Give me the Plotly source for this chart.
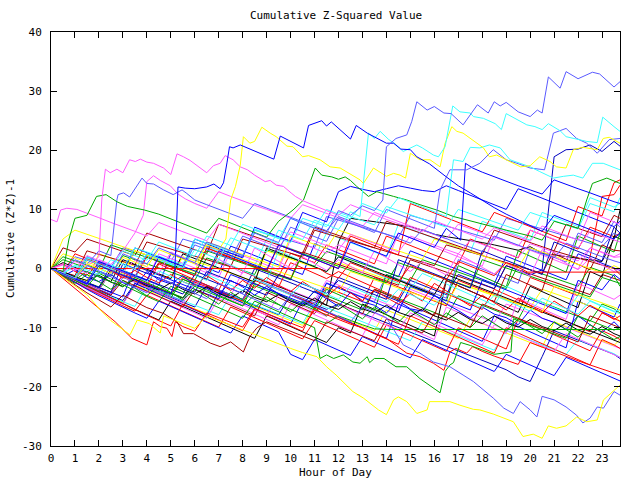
import plotly.graph_objects as go

# ---------------- data (values read/estimated from the reference) ----------------
HALF_HOURS = [min(i * 0.5, 23.75) for i in range(49)]
X_TICKS = list(range(0, 24))
Y_TICKS = [-30, -20, -10, 0, 10, 20, 30, 40]

# bundle series on the half-hour grid
b01_blue = [0,-0.9,-1.7,-2.5,1.2,0.4,-0.4,-1.2,-2.0,-2.8,2.5,1.7,0.9,0.1,-0.7,3.8,3.0,2.2,1.4,0.6,-0.2,-1.0,4.2,3.4,2.6,1.8,1.0,0.2,-0.6,-1.4,3.0,2.2,1.4,0.6,-0.2,-1.0,-1.8,-2.6,2.1,1.3,0.5,-0.3,-1.1,-1.9,2.5,1.7,0.9,0.1,-0.3]
b02_green = [0,-0.8,-1.6,-2.4,-3.1,-0.5,-1.3,-2.1,-2.9,-3.7,-4.5,-1.8,-2.6,-3.4,-4.2,-5.0,-5.7,-2.9,-3.7,-4.5,-5.3,-6.1,-3.8,-4.6,-5.4,-6.2,-7.0,-3.5,-4.3,-5.1,-5.9,-6.7,-7.4,-8.2,-4.6,-5.4,-6.2,-7.0,-7.8,-8.6,-4.9,-5.7,-6.5,-7.3,-8.1,-8.9,-6.0,-6.8,-7.5]
b03_red = [0,-0.7,2.5,1.7,0.9,0.1,-0.7,-1.5,2.0,1.2,0.4,-0.4,-1.2,3.5,2.7,1.9,1.1,0.3,-0.5,-1.3,2.6,1.8,1.0,4.0,3.2,2.4,1.6,0.8,5.5,4.7,3.9,3.1,2.3,1.5,0.7,5.0,4.2,3.4,2.6,1.8,6.5,5.7,4.9,4.1,3.3,7.0,6.2,5.4,6.0]
b04_magenta = [0,-1.0,-1.9,-2.8,-3.6,-4.4,-1.0,-1.8,-2.6,-3.4,-4.2,-5.0,-2.2,-3.0,-3.8,-4.6,-0.5,-1.3,-2.1,-2.9,-3.7,-4.5,-5.3,-2.0,-2.8,-3.6,-4.4,-5.2,-6.0,-6.8,-3.5,-4.3,-5.1,-5.9,-6.7,-7.5,-8.3,-9.1,-6.0,-6.8,-7.6,-8.4,-9.2,-10.0,-10.8,-11.6,-12.4,-13.1,-13.5]
b05_cyan = [0,-0.8,-1.6,1.8,1.0,0.2,-0.6,3.0,2.2,1.4,0.6,-0.2,4.5,3.7,2.9,2.1,1.3,0.5,5.0,4.2,3.4,2.6,1.8,6.0,5.2,4.4,3.6,2.8,2.0,7.5,6.7,5.9,5.1,4.3,3.5,2.7,8.0,7.2,6.4,5.6,4.8,9.5,8.7,7.9,7.1,12.0,11.2,10.4,11.0]
b06_yellow = [0,-1.1,-2.1,-3.1,-4.0,-4.9,-5.7,-2.8,-3.6,-4.4,-5.2,-6.0,-6.8,-7.6,-4.0,-4.8,-5.6,-6.4,-7.2,-8.0,-8.8,-9.6,-6.5,-7.3,-8.1,-8.9,-9.7,-10.5,-7.0,-7.8,-8.6,-9.4,-10.2,-11.0,-11.8,-8.5,-9.3,-10.1,-10.9,-11.7,-12.5,-13.3,-9.0,-9.8,-10.6,-11.4,-12.2,-13.0,-12.0]
b07_black = [0,-0.9,-1.8,-2.7,-3.5,-0.2,-1.0,-1.8,-2.6,-3.4,-4.2,-5.0,-2.0,-2.8,-3.6,-4.4,-5.2,-1.5,-2.3,-3.1,-3.9,-4.7,-5.5,-6.2,4.5,8.5,8.2,7.9,7.7,7.4,7.1,6.5,5.8,5.4,5.1,4.8,4.4,4.0,3.5,3.1,3.7,2.6,2.3,2.0,1.7,1.5,1.2,5.0,9.9]
b08_darkred = [0,-0.7,-1.4,1.5,0.8,0.1,-0.6,-1.3,-2.0,1.0,0.3,-0.4,-1.1,-1.8,2.5,1.8,1.1,0.4,-0.3,-1.0,-1.7,2.8,2.1,1.4,0.7,0.0,-0.7,-1.4,-2.1,-2.8,1.5,0.8,0.1,-0.6,-1.3,-2.0,-2.7,-3.4,0.5,-0.2,-0.9,-1.6,-2.3,-3.0,-3.7,-4.4,-1.0,-1.7,-2.0]
b09_lightblue = [0,-0.6,2.0,1.4,0.8,0.2,3.5,2.9,2.3,1.7,1.1,5.0,4.4,3.8,3.2,2.6,2.0,6.5,5.9,5.3,4.7,4.1,3.5,8.8,8.2,7.6,7.0,6.4,5.8,5.2,9.0,8.4,7.8,7.2,6.6,6.0,5.4,4.8,8.5,7.9,7.3,6.7,6.1,5.5,4.9,4.3,3.7,6.0,5.4]
b10_navy = [0,-1.0,-2.0,-2.9,-3.8,-4.6,-5.4,-2.5,-3.3,-4.1,-4.9,-5.7,-6.5,-3.0,-3.8,-4.6,-5.4,-6.2,-7.0,-7.8,-4.5,-5.3,-6.1,-6.9,-6.0,-6.8,-7.6,-8.4,-9.2,-10.0,-10.8,-11.6,-12.4,-13.2,-14.0,-14.8,-15.6,-16.4,-17.1,-18.3,-19.1,-14.9,-10.5,-11.3,-12.1,-12.9,-13.7,-14.5,-15.2]
b11_red = [0,-0.8,-1.6,-2.4,-3.2,-4.0,-1.0,-1.8,-2.6,-3.4,-4.2,-1.5,-2.3,-3.1,-3.9,-4.7,-5.5,-2.0,-2.8,-3.6,-4.4,-5.2,-6.0,-3.2,-4.0,-4.8,-5.6,-1.5,-2.3,-3.1,-3.9,-4.7,-5.5,-6.3,-2.0,-2.8,-3.6,-4.4,-5.2,-6.0,-1.5,-2.3,-3.1,-3.9,-4.6,2.0,12.2,12.5,14.1]
b12_green = [0,1.5,0.8,0.1,-0.6,-1.3,2.2,1.5,0.8,0.1,-0.6,-1.3,-2.0,1.8,1.1,0.4,-0.3,-1.0,3.2,2.5,1.8,1.1,0.4,2.9,2.2,1.5,0.8,0.1,-0.6,-1.3,-2.0,1.5,0.8,0.1,-0.6,-1.3,-2.0,-2.7,-3.4,0.5,-0.2,-0.9,-1.6,-2.3,-3.0,0.2,-0.5,-1.2,-3.0]
b13_blue = [0,-1.1,-2.2,-3.2,-4.2,-5.1,-6.0,-2.5,-3.4,-4.3,-5.2,-6.1,-7.0,-7.9,-4.0,-4.9,-5.8,-6.7,-7.6,-8.5,-9.4,-5.5,-6.4,-7.3,-8.2,-9.1,-10.0,-10.9,-11.8,-6.0,-6.9,-7.8,-8.7,-9.6,-10.5,-11.4,-12.3,-8.0,-8.9,-9.8,-10.7,-11.6,-12.5,-13.4,-5.5,-6.4,-7.3,-8.2,-6.0]
b14_magenta = [0,-0.8,-1.6,-2.4,1.0,0.2,-0.6,-1.4,-2.2,2.5,1.7,0.9,0.1,-0.7,-1.5,3.0,2.2,1.4,0.6,-0.2,5.0,4.2,3.4,2.6,4.0,3.2,2.4,1.6,0.8,6.0,5.2,4.4,3.6,2.8,2.0,1.2,0.4,5.5,4.7,3.9,3.1,2.3,1.5,0.7,-0.1,3.5,2.7,1.9,2.0]
b15_cyan = [0,-1.0,-2.0,-3.0,-3.9,-4.8,-5.6,-6.4,-3.0,-3.8,-4.6,-5.4,-6.2,-7.0,-7.8,-4.5,-5.3,-6.1,-6.9,-7.7,-8.5,-9.3,-5.8,-6.6,-7.4,-8.2,-9.0,-9.8,-10.6,-11.4,-12.2,-9.0,-9.8,-10.6,-11.4,-12.2,-13.0,-13.8,-10.5,-11.3,-12.1,-12.9,-13.7,-14.5,-12.0,-12.8,-13.6,-14.4,-15.0]
b16_yellow = [0,-0.7,-1.4,-2.1,2.5,1.8,1.1,0.4,-0.3,-1.0,-1.7,2.0,1.3,0.6,-0.1,-0.8,-1.5,-2.2,3.0,2.3,1.6,0.9,0.2,-0.5,1.0,0.3,-0.4,-1.1,-1.8,-2.5,-3.2,-3.9,-1.0,-1.7,-2.4,-3.1,-3.8,-4.5,-5.2,-5.9,-6.6,-3.5,-4.2,-4.9,-5.6,-6.3,-7.0,-7.7,-9.0]
b17_black = [0,-1.0,-2.0,-3.0,-4.0,-5.0,-6.0,-6.9,-7.8,-8.7,-5.5,-6.4,-7.3,-8.2,-9.1,-10.0,-10.9,-11.8,-8.0,-8.9,-9.8,-10.7,-11.6,-12.5,-10.0,-10.9,-6.0,-6.9,-7.8,-8.7,-9.6,-10.5,-11.4,-2.0,-2.9,-3.8,-4.7,-5.6,-6.5,-7.4,-3.0,-3.9,-4.8,-5.7,-6.6,-0.5,-1.4,5.5,5.0]
b18_darkred = [0,-0.6,-1.2,3.0,2.4,1.8,1.2,0.6,4.5,3.9,3.3,2.7,2.1,1.5,0.9,0.3,5.0,4.4,3.8,3.2,2.6,2.0,6.5,5.9,5.3,4.7,4.1,3.5,2.9,2.3,1.7,1.1,0.5,4.0,3.4,2.8,2.2,1.6,1.0,0.4,-0.2,-0.8,3.0,2.4,1.8,1.2,0.6,0.0,-1.0]
b19_lightblue = [0,-0.9,-1.8,-2.7,-3.5,-4.3,-1.5,-2.3,-3.1,-3.9,-4.7,-5.5,-2.0,-2.8,-3.6,-4.4,-5.2,-1.8,-2.6,-3.4,-4.2,-5.0,-5.8,-2.4,-3.2,-4.0,-4.8,-5.6,-1.0,-1.8,-2.6,-3.4,-4.2,-5.0,1.5,0.7,-0.1,-0.9,-1.7,-2.5,3.5,2.7,1.9,1.1,6.0,5.2,4.4,8.0,7.0]
b20_navy = [0,-0.8,-1.6,-2.4,-3.2,0.5,-0.3,-1.1,-1.9,-2.7,-3.5,-4.3,-1.0,-1.8,-2.6,-3.4,-4.2,0.0,-0.8,-1.6,-2.4,-3.2,-4.0,-4.8,-1.5,-2.3,-3.1,-3.9,-4.7,-5.5,-2.0,-2.8,-3.6,-4.4,-1.0,-1.8,-2.6,-3.4,0.5,-0.3,-1.1,-0.2,18.9,20.1,20.2,20.9,19.8,21.5,20.7]
b21_red = [0,-0.9,-1.8,1.5,0.6,-0.3,-1.2,-2.1,-3.0,0.8,-0.1,-1.0,-1.9,-2.8,-3.7,0.5,-0.4,-1.3,-2.2,-3.1,1.0,0.1,-0.8,-1.7,-0.5,-1.4,-2.3,-3.2,-4.1,-5.0,-1.5,-2.4,-3.3,-4.2,-5.1,-6.0,-6.9,-3.5,-4.4,-5.3,-6.2,-7.1,-8.0,-8.9,-9.8,-10.7,-7.5,-8.4,-8.9]
b22_green = [0,-1.0,-1.9,-2.8,-3.7,-0.5,-1.4,-2.3,-3.2,-4.1,-5.0,-1.8,-2.7,-3.6,-4.5,-5.4,-6.3,-2.5,-3.4,-4.3,-5.2,-6.1,-7.0,-3.5,-4.4,-5.3,-6.2,-7.1,-1.0,-1.9,-2.8,-3.7,-4.6,-5.5,0.5,-0.4,-1.3,-2.2,-3.1,3.0,2.1,1.2,0.3,-0.6,5.5,4.6,3.7,2.8,6.0]
b23_blue = [0,-0.8,-1.6,2.0,1.2,0.4,-0.4,3.5,2.7,1.9,1.1,0.3,5.0,4.2,3.4,2.6,1.8,7.0,6.2,5.4,4.6,9.5,8.7,7.9,13.0,13.9,13.4,13.0,13.5,14.0,13.6,13.2,13.0,14.0,13.2,12.4,11.6,10.8,10.0,13.5,12.7,11.9,11.1,10.3,9.5,8.7,7.9,7.1,8.0]
b24_magenta = [0,-1.1,-2.2,-3.2,-4.2,-5.1,-6.0,-3.0,-3.9,-4.8,-5.7,-6.6,-7.5,-8.4,-5.0,-5.9,-6.8,-7.7,-8.6,-9.5,-6.0,-6.9,-7.8,-8.7,-9.6,-10.5,-11.4,-7.5,-8.4,-9.3,-10.2,-11.1,-12.0,-6.5,-7.4,-8.3,-9.2,-10.1,-11.0,-5.0,-5.9,-6.8,-7.7,-8.6,-2.5,-3.4,-4.3,-5.2,-4.5]
b25_cyan = [0,-0.9,-1.8,-2.7,0.8,-0.1,-1.0,-1.9,2.5,1.6,0.7,-0.2,-1.1,-2.0,1.5,0.6,-0.3,-1.2,-2.1,3.0,2.1,1.2,0.3,-0.6,2.0,1.1,0.2,-0.7,-1.6,-2.5,-3.4,-0.8,-1.7,-2.6,-3.5,-4.4,-5.3,-6.2,-3.0,-3.9,-4.8,-5.7,-6.6,-7.5,-4.5,-5.4,-6.3,-7.2,-7.0]
b26_red = [0,-1.2,-2.3,-3.4,-4.4,-5.4,-6.3,-7.2,-4.5,-5.4,-6.3,-7.2,-8.1,-9.0,-9.9,-6.5,-7.4,-8.3,-9.2,-10.1,-11.0,-11.9,-8.8,-9.7,-10.6,-11.5,-12.4,-13.3,-9.5,-10.4,-11.3,-12.2,-13.1,-14.0,-10.0,-10.9,-11.8,-12.7,-13.6,-8.5,-9.4,-10.3,-11.2,-12.1,-13.0,-13.9,-10.5,-11.4,-12.0]
b27_blue = [0,-0.8,-1.6,-2.4,-3.2,-4.0,-4.8,0.5,-0.3,-1.1,-1.9,-2.7,-3.5,-4.3,-5.1,-1.0,-1.8,-2.6,-3.4,-4.2,-5.0,-5.8,-6.6,-2.5,-3.3,-4.1,-4.9,-5.7,-6.5,-7.3,-3.0,-3.8,-4.6,-5.4,-6.2,-7.0,-2.0,-2.8,-3.6,-4.4,-5.2,-6.0,-6.8,-7.6,-2.0,-2.8,-3.6,-1.0,-1.8]
b28_black = [0,1.0,0.2,-0.6,-1.4,-2.2,1.5,0.7,-0.1,-0.9,-1.7,2.5,1.7,0.9,0.1,-0.7,-1.5,-2.3,3.5,2.7,1.9,1.1,0.3,-0.5,2.0,1.2,0.4,-0.4,-1.2,-2.0,-2.8,-3.6,-4.4,-1.0,-1.8,-2.6,-3.4,-4.2,-5.0,-5.8,-6.6,-7.4,-8.2,-9.0,-9.8,-10.6,-11.4,-12.2,-12.5]
b29_darkred = [0,-0.9,-1.8,-2.7,-3.6,-4.5,-2.0,-2.9,-3.8,-4.7,-5.6,-6.5,-3.5,-4.4,-5.3,-6.2,-7.1,-8.0,-4.0,-4.9,-5.8,-6.7,-7.6,-5.0,-5.9,-6.8,-7.7,-3.5,-4.4,-5.3,-6.2,-7.1,-8.0,-2.0,-2.9,-3.8,-4.7,-5.6,-1.0,-1.9,-2.8,-3.7,2.5,1.6,0.7,-0.2,4.0,3.1,3.0]
b30_yellow = [0,2.5,1.8,1.1,0.4,-0.3,-1.0,3.0,2.3,1.6,0.9,0.2,-0.5,4.5,3.8,3.1,2.4,1.7,1.0,0.3,5.5,4.8,4.1,3.4,6.5,5.8,5.1,4.4,3.7,3.0,2.3,1.6,5.0,4.3,3.6,2.9,2.2,1.5,0.8,0.1,3.5,2.8,2.1,1.4,0.7,0.0,-0.7,0.5,0.0]
b31_blue = [0,-1.2,-2.4,-3.5,-4.6,-5.6,-6.6,-7.5,-8.4,-5.5,-6.4,-7.3,-8.2,-9.1,-10.0,-10.9,-8.0,-8.9,-9.8,-10.7,-14.5,-15.4,-12.0,-12.9,-13.8,-14.7,-11.5,-12.4,-13.3,-14.2,-15.1,-12.0,-12.9,-13.8,-14.7,-15.6,-16.5,-17.4,-14.5,-15.4,-16.3,-17.2,-18.1,-15.0,-15.9,-16.8,-17.7,-18.6,-19.0]
b32_red = [0,-0.8,-1.6,-2.4,1.0,0.2,-0.6,-1.4,2.0,1.2,0.4,-0.4,-1.2,3.5,2.7,1.9,1.1,0.3,-0.5,4.0,3.2,2.4,1.6,0.8,0.0,5.5,4.7,3.9,3.1,2.3,11.0,10.2,9.4,8.6,7.8,7.0,6.2,9.5,8.7,7.9,7.1,6.3,5.5,4.7,10.5,9.7,8.9,14.5,15.0]
b33_darkred = [0,3.5,2.8,5.0,4.3,3.6,2.9,2.2,6.0,5.3,4.6,3.9,3.2,2.5,7.5,6.8,6.1,5.4,4.7,4.0,3.3,2.6,7.0,6.3,5.6,4.9,4.2,3.5,8.0,7.3,6.6,5.9,5.2,4.5,3.8,3.1,2.4,6.5,5.8,5.1,4.4,3.7,3.0,7.5,6.8,6.1,5.4,9.0,8.5]
b34_yellow = [0,5.0,6.5,5.8,5.1,4.4,3.7,3.0,2.3,1.6,0.9,0.2,-0.5,-1.2,3.0,2.3,1.6,0.9,0.2,-0.5,-1.2,-1.9,-2.6,-3.3,-4.0,-0.5,-1.2,-1.9,-2.6,-3.3,-4.0,-4.7,-5.4,-6.1,-2.5,-3.2,-3.9,-4.6,-5.3,-6.0,-6.7,-7.4,-3.0,-3.7,-4.4,-5.1,-5.8,-6.5,-7.0]
b35_red = [0,-1.0,-2.0,-3.0,-4.0,-5.0,-6.0,-7.0,-7.9,-8.8,-9.7,-6.0,-6.9,-7.8,-8.7,-9.6,-10.5,-7.0,-7.9,-8.8,-9.7,-10.6,-6.5,-7.4,-8.3,-9.2,-10.1,-11.0,-11.9,-12.8,-8.0,-8.9,-9.8,-10.7,-11.6,-12.5,-13.4,-14.3,-10.0,-10.9,-11.8,-12.7,-13.6,-14.5,-15.4,-16.3,-12.0,-12.9,-13.5]
b36_green = [0,2.0,1.3,0.6,-0.1,4.0,3.3,2.6,1.9,1.2,0.5,-0.2,-0.9,3.0,2.3,1.6,0.9,0.2,-0.5,-1.2,-1.9,2.5,1.8,1.1,0.4,-0.3,-1.0,-1.7,-2.4,1.0,0.3,-0.4,-1.1,-1.8,-2.5,-3.2,1.5,0.8,0.1,-0.6,-1.3,-2.0,-2.7,-3.4,-4.1,-4.8,-1.5,-2.2,-2.5]
b37_magenta = [0,-0.9,-1.8,-2.7,-3.6,-0.5,-1.4,-2.3,-3.2,-4.1,-5.0,-5.9,-2.5,-3.4,-4.3,-5.2,-6.1,-7.0,-7.9,-4.5,-5.4,-6.3,-7.2,-8.1,-6.0,-6.9,-7.8,-8.7,-9.6,-10.5,-7.5,-8.4,-9.3,-10.2,-11.1,-12.0,-12.9,-9.5,-10.4,-11.3,-12.2,-13.1,-14.0,-11.0,-11.9,-12.8,-13.7,-14.6,-15.0]
b38_navy = [0,-0.8,-1.6,-2.4,-3.2,-4.0,0.8,0.0,-0.8,-1.6,-2.4,-3.2,-4.0,-0.5,-1.3,-2.1,-2.9,-3.7,-4.5,-1.0,-1.8,-2.6,-3.4,-4.2,-2.0,-2.8,-3.6,-4.4,-5.2,1.5,0.7,-0.1,-0.9,-1.7,-2.5,-3.3,3.0,2.2,1.4,0.6,-0.2,-1.0,4.5,3.7,2.9,2.1,1.3,7.0,6.0]
b39_cyan = [0,-0.7,-1.4,2.0,1.3,0.6,-0.1,3.5,2.8,2.1,1.4,0.7,5.0,4.3,3.6,2.9,2.2,6.5,5.8,5.1,4.4,8.5,7.8,7.1,9.5,8.8,8.1,7.4,10.5,9.8,9.1,8.4,7.7,7.0,10.0,9.3,8.6,7.9,7.2,6.5,9.5,8.8,8.1,7.4,6.7,11.0,10.3,9.6,12.0]
b40_blue = [0,-1.3,-0.2,-1.5,-2.2,-1.0,-2.4,-3.1,-0.5,-1.9,-2.6,-1.2,-2.8,-3.3,-4.6,-2.0,-3.1,-4.5,-3.0,-4.2,-5.5,-6.0,-3.8,-5.1,-6.4,-4.0,-5.6,-6.2,-7.5,-5.5,-6.8,-7.2,-4.5,-6.0,-7.1,-8.4,-6.5,-7.7,-8.3,-9.5,-7.0,-8.4,-9.1,-10.3,-8.0,-9.5,-10.8,-9.0,-10.0]
b41_red = [0,0.8,-0.5,-1.1,0.9,-0.4,-1.6,-0.3,-1.5,-2.4,-1.0,-2.2,-3.0,-1.2,-2.5,-3.7,-2.0,-3.3,-1.5,-2.8,-3.9,-2.2,-3.5,-4.8,-3.0,-4.1,-5.4,-3.6,-4.9,-6.0,-4.2,-5.5,-2.5,-3.8,-5.0,-6.3,-4.5,-5.7,-7.0,-5.0,-6.3,-7.5,-5.5,-6.8,-8.0,-6.2,-7.4,-8.6,-8.0]
b42_green = [0,-1.2,-2.5,-1.0,-2.3,-3.5,-2.0,-3.3,-4.6,-2.8,-4.1,-5.3,-3.5,-4.8,-6.0,-4.0,-5.3,-6.6,-4.8,-6.1,-7.3,-5.5,-6.8,-8.0,-6.0,-7.3,-8.5,-6.5,-7.8,-9.1,-7.0,-8.3,-9.5,-7.5,-8.8,-10.0,-8.0,-9.3,-10.6,-8.5,-9.8,-11.0,-9.0,-10.3,-11.6,-9.5,-10.8,-12.0,-11.5]
b43_magenta = [0,0.6,-0.4,2.2,1.3,0.5,-0.6,1.4,0.3,-0.9,2.8,1.9,0.8,-0.3,1.6,0.4,-0.8,3.5,2.4,1.2,0.1,2.0,0.9,-0.3,1.5,0.4,-0.7,3.0,1.8,0.6,-0.5,1.2,0.0,-1.1,2.5,1.3,0.2,-0.9,1.0,-0.2,-1.3,3.2,2.0,0.9,-0.2,1.8,0.6,-0.5,0.0]
b44_black = [0,-0.5,-1.4,-2.0,-1.1,-2.3,-3.0,-1.8,-2.9,-3.6,-2.4,-3.5,-4.3,-3.1,-4.2,-5.0,-3.7,-4.9,-5.6,-4.4,-5.5,-6.3,-5.0,-6.2,-6.9,-5.6,-6.8,-7.5,-6.2,-7.4,-8.1,-6.8,-8.0,-8.7,-7.4,-8.6,-9.3,-8.0,-9.2,-9.9,-8.6,-9.8,-10.5,-9.2,-10.4,-11.1,-9.8,-11.0,-11.4]
b45_cyan = [0,-0.9,0.4,-0.5,-1.4,0.6,-0.3,-1.2,-2.1,-0.4,-1.3,-2.2,-3.1,-1.0,-1.9,-2.8,-3.7,-1.8,-2.7,-3.6,-4.5,-2.5,-3.4,-4.3,-5.2,-3.0,-3.9,-4.8,-5.7,-3.5,-4.4,-5.3,-6.2,-4.0,-4.9,-5.8,-6.7,-4.5,-5.4,-6.3,-7.2,-5.0,-5.9,-6.8,-7.7,-5.5,-6.4,-7.3,-7.6]

# traced series with their own hour stamps
lb_top_h = [0,0.5,1,1.5,2,2.5,3,3.5,4,4.5,5,5.5,6,6.5,7,7.5,8,8.5,9,9.5,10,10.5,11,11.5,12,12.5,13,13.5,13.85,14.0,14.4,14.85,15.06,15.27,15.7,16.0,16.4,16.7,17.2,17.8,18.25,18.5,18.75,19.0,19.5,20.0,20.3,20.5,20.76,21.25,21.5,22.0,22.6,22.9,23.5,23.75]
lb_top_v = [0,-1,-1.8,0.5,-0.4,-1.2,2.5,1.6,0.8,3.5,2.6,1.8,1.0,4.5,3.8,3.0,2.2,6,5.2,4.4,8.5,7.6,6.8,6,9.8,9,10.6,9.8,11.6,20.6,22.0,22.6,24.9,28.2,26.8,27.4,26.3,26.2,24.3,27.7,26.3,28.2,27.5,28.1,26.5,25.7,26.8,26.3,32.4,30.5,33.3,32.1,33.2,32.9,30.7,31.6]

cyan_top_h = [0,0.5,1,1.5,2,2.5,3,3.5,4,4.5,5,5.5,6,6.5,7,7.5,8,8.5,9,9.5,10,10.5,11,11.5,12,12.5,12.9,13.25,13.5,13.74,14.1,14.36,14.7,15.27,15.5,15.96,16.17,16.45,16.77,17.07,17.5,17.63,18.05,18.54,18.8,19.0,19.58,19.86,20.2,20.5,20.76,21.25,21.5,21.8,22.36,22.8,23.03,23.5,23.75]
cyan_top_v = [0,-0.8,0.6,-0.2,-1,1.5,0.7,-0.1,2.5,1.7,0.9,0.1,3.2,2.4,1.6,5.2,4.4,3.6,2.8,6.5,5.7,4.9,8.2,7.4,6.6,9.6,8.8,22.9,22.0,23.2,21.8,21.1,19.8,20.9,20.4,19.2,18.9,20.6,27.5,26.5,26.3,25.7,25.4,24.5,23.5,26.2,24.9,24.3,24.0,23.5,24.5,23.3,22.3,22.0,21.5,21.3,25.6,24.0,23.2]

yel_top_h = [0,0.5,1,1.5,2,2.5,3,3.5,4,4.5,5,5.5,6,6.5,7,7.3,7.5,7.7,7.9,8.03,8.3,8.5,8.8,9.15,9.4,9.85,10.1,10.5,10.75,11.23,11.65,12.07,12.6,12.9,13.04,13.46,14.0,14.3,14.57,14.8,15.0,15.4,15.82,16.24,16.45,16.73,16.94,17.2,18.05,18.3,18.6,18.75,19.6,20.0,20.4,20.83,21.1,21.5,21.8,22.2,22.8,23.05,23.3,23.75]
yel_top_v = [0,-0.9,-1.7,0.8,0,-0.8,1.9,1.1,0.3,3.2,2.4,1.6,0.8,4.0,3.2,5.0,11.6,13.9,17.5,22.3,21.2,21.5,23.9,22.9,22.3,20.7,20.6,18.9,19.1,18.4,17.2,17.0,15.8,15.0,14.4,17.0,15.6,16.1,15.8,15.3,19.5,18.4,18.4,17.2,21.2,24.0,23.2,22.9,20.4,18.9,19.2,18.9,17.2,17.4,18.9,18.1,17.2,17.0,20.1,20.5,20.1,22.0,22.2,21.2]

blue_top_h = [0,0.5,1,1.5,2,2.5,3,3.5,4,4.5,5,5.15,5.3,5.6,6,6.5,6.8,7.06,7.2,7.35,7.45,7.6,7.9,9.3,9.57,10.54,10.75,11.3,11.5,11.7,12.5,12.74,13.2,14.0,14.3,14.6,15.0,15.27,15.8,16.5,17,17.5,18,18.5,19,19.5,20,20.5,21,21.5,22,22.5,23,23.5,23.75]
blue_top_v = [0,-0.9,-1.8,-2.6,0.5,-0.3,-1.1,-1.9,-2.7,-3.5,-4.3,-2.5,13.8,13.6,13.5,13.8,14.3,13.5,14.5,18.0,20.6,20.4,20.9,18.5,22.4,20.4,24.2,25.0,24.1,24.8,21.9,24.2,22.9,21.2,21.2,20.2,20.1,18.9,17.7,15.5,14.0,12.8,11.5,10.3,9.2,8.2,7.2,6.3,9.0,8.2,7.4,6.6,5.8,5.0,6.0]

blue_mid_h = [0,0.5,1,1.5,2,2.5,3,3.5,4,4.5,5,5.5,6,6.5,7,7.5,8,8.5,9,9.5,10,10.5,11,11.5,12,12.5,13,13.5,14,14.5,15,15.5,16,16.5,17.1,17.3,17.6,18,18.5,19,19.5,20,20.5,21,21.5,22,22.5,23,23.5,23.75]
blue_mid_v = [0,-0.8,-1.6,-2.4,1.2,0.4,-0.4,-1.2,-2.0,2.0,1.2,0.4,-0.4,-1.2,3.0,2.2,1.4,0.6,-0.2,4.0,3.2,2.4,1.6,0.8,0.0,4.5,3.7,2.9,2.1,6.0,5.2,4.4,3.6,6.8,4.8,17.8,17.0,16.3,15.5,14.7,14.0,13.3,12.6,15.0,14.2,13.5,12.8,12.0,11.3,11.0]

cyan2_h = [0,0.5,1,1.5,2,2.5,3,3.5,4,4.5,5,5.5,6,6.5,7,7.5,8,8.5,9,9.5,10,10.5,11,11.5,12,12.5,13,13.5,14,14.5,15,15.5,16,16.5,16.8,17.2,17.5,17.9,18.3,18.75,19.16,20,20.4,20.97,21.4,21.8,22.2,22.6,23.05,23.75]
cyan2_v = [0,-0.8,-1.6,1.5,0.7,-0.1,3.0,2.2,1.4,4.5,3.7,2.9,2.1,5.5,4.7,3.9,7.5,6.7,5.9,5.1,8.5,7.7,6.9,10.0,9.2,8.4,11.0,10.2,9.4,12.0,11.2,10.4,9.6,8.8,18.4,18.1,20.5,20.4,20.9,20.4,18.4,17.2,16.4,15.3,15.6,15.8,15.3,17.8,17.8,16.7]

lb3_h = [0,0.5,1,1.5,2,2.5,3,3.5,4,4.5,5,5.5,6,6.5,7,7.5,8,8.5,9,9.5,10,10.5,11,11.5,12,12.5,13,13.5,14,14.5,15,15.5,16,16.24,16.65,17.35,17.9,18.46,19.0,19.45,20,20.6,20.97,21.5,21.94,22.36,22.8,23.3,23.75]
lb3_v = [0,-0.8,-1.6,-2.4,1.0,0.2,-0.6,-1.4,2.5,1.7,0.9,0.1,4.0,3.2,2.4,1.6,5.5,4.7,3.9,3.1,7.0,6.2,5.4,4.6,8.5,7.7,6.9,6.1,10.0,9.2,8.4,7.6,6.8,13.3,16.7,16.7,17.8,20.1,18.4,17.8,17.0,16.7,22.9,23.7,22.0,21.2,19.5,21.8,22.0]

mag_top_h = [0,0.5,1,1.5,2.0,2.12,2.27,2.47,2.75,3.0,3.28,3.52,3.73,4.0,4.28,4.7,5.0,5.26,5.53,5.8,6.5,6.78,7.06,7.27,7.6,7.9,8.2,8.5,8.94,9.15,9.4,9.7,10.05,10.2,10.5,11,11.5,12,12.5,13,13.5,14,14.5,15,15.5,16,16.5,17,17.5,18,18.5,19,19.5,20,20.5,21,21.5,22,22.5,23,23.5,23.75]
mag_top_v = [0,-0.7,1.2,0.4,2.0,11.6,16.8,16.2,16.8,16.2,18.4,18.1,18.5,18.0,17.8,17.0,15.9,19.4,18.9,18.3,16.2,17.4,17.8,19.1,18.4,17.2,16.7,15.8,14.7,14.9,14.1,13.9,12.7,12.2,11.5,10.6,9.8,9.0,10.8,10.0,9.1,8.3,7.6,7.0,6.2,8.1,7.3,6.5,5.8,5.0,6.9,6.1,5.3,4.6,7.2,6.4,5.6,4.8,9.5,8.7,7.9,7.5]

mag2_h = [0,0.25,0.4,0.66,1.08,1.5,2,2.5,3,3.5,4,4.5,5,5.5,6,6.5,7,7.5,8,8.5,9,9.5,10,10.5,11,11.5,12,12.5,13,13.5,14,14.5,15,15.5,16,16.5,17,17.5,18,18.5,19,19.5,20,20.5,21,21.5,22,22.5,23,23.5,23.75]
mag2_v = [8.3,7.9,9.9,10.2,10.0,9.4,8.6,7.8,7.1,6.3,5.5,7.8,7.0,6.2,5.4,4.7,7.5,6.7,5.9,5.1,4.4,3.6,6.2,5.4,4.7,3.9,3.2,5.8,5.0,4.3,3.5,2.8,5.5,4.7,4.0,3.2,2.5,4.8,4.1,3.3,2.6,1.9,4.2,3.5,2.7,2.0,1.3,3.5,2.8,2.0,2.5]

mag3_h = [0,0.5,1,1.5,2,2.5,3,3.5,3.85,4.0,4.28,4.56,4.98,5.3,5.6,6,6.5,7,7.5,8,8.5,9,9.5,10,10.5,11,11.5,12,12.5,13,13.5,14,14.5,15,15.5,16,16.5,17,17.5,18,18.5,19,19.5,20,20.5,21,21.5,22,22.5,23,23.5,23.75]
mag3_v = [0,0.8,0,-0.8,1.5,0.7,3.0,6.0,9.0,14.7,15.7,14.9,14.0,12.6,11.8,11.0,10.2,13.0,12.2,11.4,10.7,10.0,9.3,8.5,10.8,10.1,9.3,8.6,7.8,7.1,9.5,8.7,8.0,7.2,6.5,5.8,5.0,7.5,6.8,6.0,5.3,4.5,3.8,6.5,5.7,5.0,4.2,3.5,6.3,5.5,4.8,4.5]

lb2_h = [0,0.5,1,1.5,2,2.5,2.75,2.8,3.03,3.28,3.8,4.0,4.28,4.7,5.1,5.47,5.67,6.0,6.5,7,7.5,8,8.5,9,9.5,10,10.5,11,11.5,12,12.5,13,13.5,14,14.5,15,15.5,16,16.5,17,17.5,18,18.5,19,19.5,20,20.5,21,21.5,22,22.5,23,23.5,23.75]
lb2_v = [0,-0.7,1.5,0.7,3.0,2.2,11.6,12.5,12.8,12.1,15.3,14.4,14.3,13.3,12.5,13.3,12.7,11.6,10.8,10.0,9.2,8.5,11.0,10.2,9.4,8.7,7.9,7.2,6.4,8.8,8.0,7.3,6.5,5.8,5.0,4.3,6.6,5.8,5.1,4.3,3.6,2.9,5.5,4.7,4.0,3.2,2.5,1.8,4.3,3.5,2.8,2.0,1.3,1.0]

green2_h = [0,0.5,0.75,1.0,1.5,1.9,2.3,2.75,3.2,3.9,4.5,5,5.5,6,6.5,7,7.5,8,8.5,9,9.5,10.1,10.54,11.03,11.3,11.72,12.0,12.28,12.5,12.76,13.25,13.6,14.3,14.85,15.4,16.1,16.8,18,19,20,20.5,21,22,22.36,22.6,23.2,23.75]
green2_v = [0,-0.5,5.0,8.5,9.0,12.2,12.5,11.3,10.5,9.9,9.2,8.4,7.6,6.8,6.0,8.5,7.7,6.9,6.1,5.3,8.0,9.9,11.6,17.0,15.8,15.5,15.1,15.5,14.9,13.9,12.2,13.0,12.2,11.6,10.8,9.9,8.8,7.5,6.5,5.5,4.8,8.0,6.8,11.6,14.4,15.3,14.4]

yel_bot_h = [0,0.5,1,1.5,2.06,2.5,3.3,3.6,4.1,4.56,4.7,5,5.5,6,6.5,7,7.5,8,8.5,9,9.5,10,10.5,11.1,11.5,11.9,12.6,13.04,13.67,14.0,14.3,14.5,14.85,15.27,15.7,15.8,16.24,16.65,17.07,17.63,17.9,18.46,19.3,19.7,20.13,20.5,20.76,21.1,21.5,21.94,22.36,22.8,23.06,23.5,23.75]
yel_bot_v = [0,-1.5,-3.0,-4.4,-7.0,-8.8,-11.2,-8.7,-9.3,-10.9,-8.0,-8.5,-9.3,-10.1,-8.0,-8.8,-9.6,-10.4,-11.2,-12.0,-12.8,-13.5,-14.2,-14.9,-16.6,-18.0,-20.8,-21.9,-23.9,-24.7,-22.2,-21.7,-22.5,-24.5,-23.9,-22.5,-22.5,-22.5,-23.1,-23.8,-23.9,-24.6,-25.9,-28.4,-28.0,-28.7,-26.6,-27.0,-26.6,-25.1,-25.9,-25.6,-22.2,-20.5,-19.7]

lb_bot_h = [0,0.5,1,1.5,2,2.5,3,3.5,4,4.5,5,5.5,6,6.5,7,7.5,8,8.5,9,9.5,10,10.5,11,11.5,12,12.5,13,13.5,14,14.7,15.4,15.96,16.65,17.2,17.63,18.46,18.9,19.3,19.58,20.0,20.28,20.5,21.0,21.5,21.94,22.2,22.5,22.8,23.06,23.5,23.75]
lb_bot_v = [0,-0.9,-1.8,-2.7,-0.5,-1.4,-2.3,-3.2,-4.1,-1.5,-2.4,-3.3,-4.2,-5.1,-2.5,-3.4,-4.3,-5.2,-6.1,-7.0,-4.5,-5.4,-6.3,-7.2,-8.1,-9.0,-6.5,-7.4,-8.3,-12.9,-14.3,-15.8,-16.6,-18.0,-19.1,-21.9,-23.6,-24.5,-22.5,-23.9,-25.1,-21.6,-22.2,-23.4,-24.8,-26.1,-25.3,-23.4,-23.6,-20.8,-21.4]

green_bot_h = [0,0.5,1,1.5,2,2.5,3,3.5,4,4.5,5,5.5,6,6.5,7,7.5,8,8.5,9,9.5,10,10.5,11,11.23,11.5,11.8,12.2,12.6,12.9,13.2,13.3,13.5,13.9,14.4,14.85,15.4,15.8,16.24,16.45,16.65,16.8,17.1,17.5,18,18.5,19.2,19.3,19.8,20.3,21,21.5,22,22.5,23,23.5,23.75]
green_bot_v = [0,-1.0,-2.0,-3.0,-0.8,-1.8,-2.8,-3.8,-4.7,-5.6,-3.0,-3.9,-4.8,-5.7,-6.6,-7.5,-8.4,-5.5,-6.4,-7.3,-8.2,-9.1,-10.0,-15.2,-14.6,-15.2,-14.6,-15.8,-16.0,-14.9,-15.9,-15.2,-15.2,-16.6,-16.6,-18.6,-19.7,-21.0,-17.4,-16.3,-15.9,-12.5,-13.0,-13.8,-14.5,-14.1,-8.5,-9.3,-10.0,-11.0,-11.8,-8.0,-8.8,-9.6,-10.4,-10.0]

green_flat_h = [0,0.5,1,1.5,2,2.5,3,3.5,4,4.5,5,5.5,6,6.5,7,7.5,8,8.5,9,9.5,10,10.5,11,11.5,12,12.5,13,13.5,14.2,23.75]
green_flat_v = [0,-1.0,-1.9,-0.5,-1.4,-2.3,-3.1,-1.5,-2.4,-3.3,-4.1,-4.9,-3.0,-3.9,-4.7,-5.5,-6.3,-4.5,-5.3,-6.1,-6.9,-7.7,-8.5,-9.3,-8.0,-8.8,-9.5,-10.2,-10.3,-10.3]

red_flat_h = [0,11.2,11.5,12,12.5,13,13.5,14,14.5,15,15.5,16,16.5,17,17.5,18,18.5,19,19.5,19.9,23.75]
red_flat_v = [0,0,-0.8,-1.6,1.0,0.2,-0.6,-1.4,-2.2,0.5,-0.3,-1.1,-1.9,1.2,0.4,-0.4,-1.2,1.0,0.2,-0.6,-0.6]

red_low_h = [0,0.5,1,1.5,2.06,2.68,3.38,3.73,4.0,4.28,4.56,4.84,5.05,5.19,5.5,6,6.5,7,7.5,8,8.5,9,9.5,10,10.5,11,11.5,12,12.5,13,13.5,14,14.85,15.4,15.96,16.4,16.65,16.9,17.35,17.6,18,18.5,19,19.5,20,20.5,21,21.5,22,22.5,23,23.5,23.75]
red_low_v = [0,-1.7,-3.4,-5.0,-7.0,-9.0,-11.8,-12.4,-12.9,-9.0,-9.8,-10.1,-11.5,-9.0,-9.8,-10.6,-7.5,-8.3,-9.1,-9.9,-6.8,-7.6,-8.4,-9.2,-10.0,-7.0,-7.8,-8.6,-9.4,-10.0,-11.0,-11.8,-14.3,-14.9,-16.0,-17.2,-14.1,-13.5,-14.3,-13.2,-14.0,-14.8,-15.5,-16.2,-12.5,-13.3,-14.1,-14.9,-15.6,-16.3,-17.0,-17.7,-18.0]

dred_low_h = [0,0.5,1,1.5,2,2.5,3,3.5,4,4.7,5.26,5.53,5.95,6.65,7.06,7.5,7.9,8.03,8.3,8.6,9,9.5,10,10.5,11,11.5,12,12.5,13,13.5,14,14.5,15,15.5,16,16.5,17,17.5,18,18.5,19,19.5,20,20.5,21,21.5,22,22.5,23,23.5,23.75]
dred_low_v = [0,-1.4,-2.8,-4.1,-5.3,-6.5,-4.5,-5.6,-6.6,-7.6,-9.0,-11.0,-11.0,-12.6,-13.2,-12.4,-13.7,-14.1,-11.5,-10.0,-9.0,-9.8,-10.6,-11.4,-12.2,-9.0,-9.8,-10.6,-11.4,-12.2,-8.5,-9.3,-10.1,-10.9,-7.5,-8.3,-9.1,-9.9,-6.0,-6.8,-7.6,-8.4,-9.2,-10.0,-10.8,-11.6,-12.4,-8.0,-8.8,-9.6,-10.0]

# ---------------- style ----------------
C_RED = "#ff0000"
C_DRED = "#a80000"
C_GREEN = "#00a800"
C_BLUE = "#0000ff"
C_LBLUE = "#5a5aff"
C_NAVY = "#0000c0"
C_MAG = "#ff5cff"
C_CYAN = "#3cffff"
C_YEL = "#ffff00"
C_BLACK = "#000000"

bundle = [
    (b01_blue, C_BLUE), (b02_green, C_GREEN), (b03_red, C_RED), (b04_magenta, C_MAG),
    (b05_cyan, C_CYAN), (b06_yellow, C_YEL), (b07_black, C_BLACK), (b08_darkred, C_DRED),
    (b09_lightblue, C_LBLUE), (b10_navy, C_NAVY), (b11_red, C_RED), (b12_green, C_GREEN),
    (b13_blue, C_BLUE), (b14_magenta, C_MAG), (b15_cyan, C_CYAN), (b16_yellow, C_YEL),
    (b17_black, C_BLACK), (b18_darkred, C_DRED), (b19_lightblue, C_LBLUE), (b20_navy, C_NAVY),
    (b21_red, C_RED), (b22_green, C_GREEN), (b23_blue, C_BLUE), (b24_magenta, C_MAG),
    (b25_cyan, C_CYAN), (b26_red, C_RED), (b27_blue, C_BLUE), (b28_black, C_BLACK),
    (b29_darkred, C_DRED), (b30_yellow, C_YEL), (b31_blue, C_BLUE), (b32_red, C_RED),
    (b33_darkred, C_DRED), (b34_yellow, C_YEL), (b35_red, C_RED), (b36_green, C_GREEN),
    (b37_magenta, C_MAG), (b38_navy, C_NAVY), (b39_cyan, C_CYAN), (b40_blue, C_BLUE),
    (b41_red, C_RED), (b42_green, C_GREEN), (b43_magenta, C_MAG), (b44_black, C_BLACK),
    (b45_cyan, C_CYAN),
]

traced = [
    (green_flat_h, green_flat_v, C_GREEN), (red_flat_h, red_flat_v, C_RED),
    (red_low_h, red_low_v, C_RED), (dred_low_h, dred_low_v, C_DRED),
    (green_bot_h, green_bot_v, C_GREEN), (lb_bot_h, lb_bot_v, C_LBLUE),
    (yel_bot_h, yel_bot_v, C_YEL), (mag2_h, mag2_v, C_MAG), (mag3_h, mag3_v, C_MAG),
    (lb2_h, lb2_v, C_LBLUE), (green2_h, green2_v, C_GREEN), (blue_mid_h, blue_mid_v, C_BLUE),
    (lb3_h, lb3_v, C_LBLUE), (cyan2_h, cyan2_v, C_CYAN), (mag_top_h, mag_top_v, C_MAG),
    (yel_top_h, yel_top_v, C_YEL), (cyan_top_h, cyan_top_v, C_CYAN),
    (blue_top_h, blue_top_v, C_BLUE), (lb_top_h, lb_top_v, C_LBLUE),
]

fig = go.Figure()
for vals, col in bundle:
    n = min(len(vals), len(HALF_HOURS))
    fig.add_trace(go.Scatter(x=HALF_HOURS[:n], y=vals[:n], mode="lines",
                             line=dict(color=col, width=1), hoverinfo="skip"))
for hs, vs, col in traced:
    n = min(len(hs), len(vs))
    fig.add_trace(go.Scatter(x=hs[:n], y=vs[:n], mode="lines",
                             line=dict(color=col, width=1), hoverinfo="skip"))

FONT = dict(family="DejaVu Sans Mono", size=11, color="black")
axis_common = dict(showgrid=False, zeroline=False, showline=True, linecolor="black",
                   linewidth=1, mirror="ticks", ticks="inside", ticklen=6,
                   tickcolor="black", tickwidth=1, tickfont=FONT)
fig.update_xaxes(range=[0, 23.75], tickmode="array", tickvals=X_TICKS,
                 ticktext=[str(t) for t in X_TICKS], ticklabelstandoff=2, **axis_common)
fig.update_yaxes(range=[-30, 40], tickmode="array", tickvals=Y_TICKS,
                 ticktext=[str(t) for t in Y_TICKS], ticklabelstandoff=6, **axis_common)

fig.update_layout(
    width=640, height=480,
    margin=dict(l=51, r=20, t=32, b=34, pad=0),
    paper_bgcolor="white", plot_bgcolor="white",
    showlegend=False,
    hovermode=False,
    font=FONT,
    annotations=[
        dict(text="Cumulative Z-Squared Value", xref="paper", yref="paper",
             x=0.5, y=1.041, xanchor="center", yanchor="middle", showarrow=False, font=FONT),
        dict(text="Hour of Day", xref="paper", yref="paper",
             x=0.5, y=-0.063, xanchor="center", yanchor="middle", showarrow=False, font=FONT),
        dict(text="Cumulative (Z*Z)-1", xref="paper", yref="paper",
             x=-0.072, y=0.5, xanchor="center", yanchor="middle", textangle=-90,
             showarrow=False, font=FONT),
    ],
)

# remove the browser's default 8px body margin so the figure sits at the window origin
fig.write_html("out.html",
               config={"displayModeBar": False, "staticPlot": True},
               post_script="document.body.style.margin='0';document.body.style.padding='0';")
